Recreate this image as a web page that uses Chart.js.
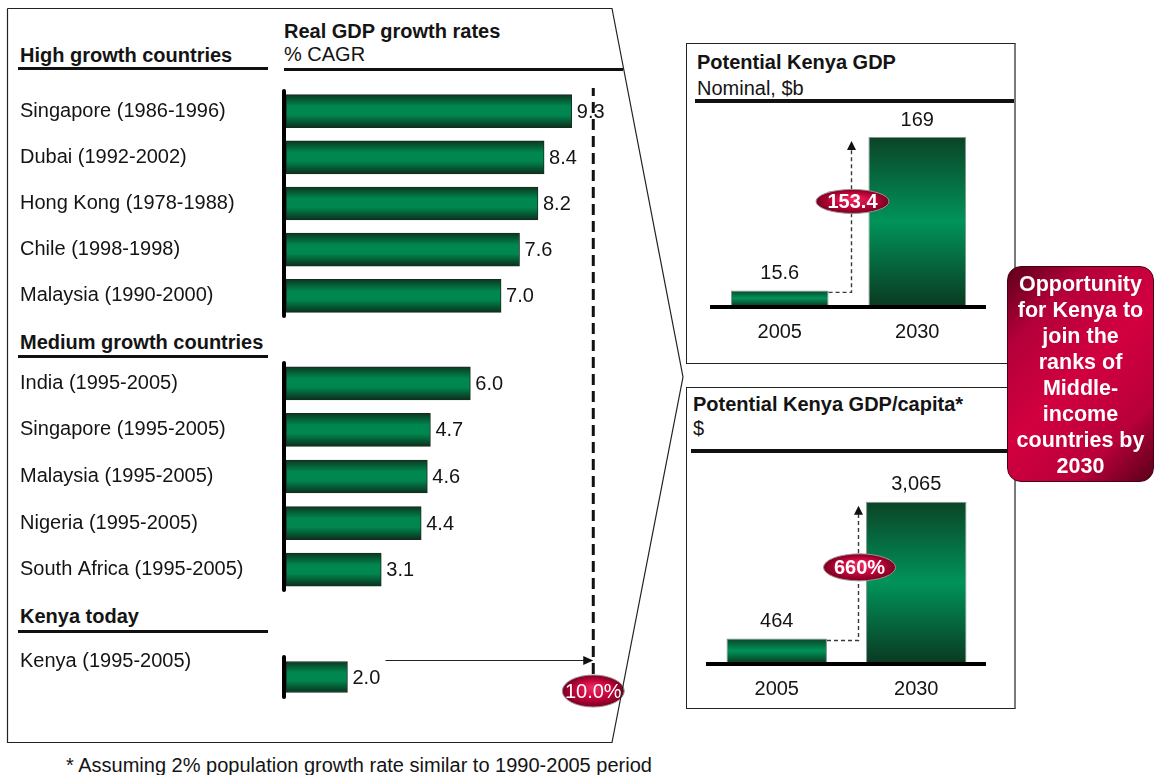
<!DOCTYPE html>
<html>
<head>
<meta charset="utf-8">
<title>Kenya growth ambition</title>
<script src="https://cdn.jsdelivr.net/npm/chart.js@4.4.1/dist/chart.umd.min.js"></script>
<style>
  html, body { margin: 0; padding: 0; background: #fff; }
  body {
    width: 1154px; height: 775px; position: relative; overflow: hidden;
    font-family: "Liberation Sans", Arial, Helvetica, sans-serif; color: #141414;
  }
  .t { position: absolute; font-size: 20px; line-height: 24px; white-space: nowrap; }
  .b { font-weight: bold; }
  .rule { position: absolute; background: #111; }
  canvas { position: absolute; }
  .box {
    position: absolute; box-sizing: border-box;
    border: 1px solid #222; border-right: 2px solid #7a7a7a;
  }
  #frame { position: absolute; left: 0; top: 0; z-index: 5; pointer-events: none; }
  #callout {
    position: absolute; left: 1007px; top: 266px; width: 147px; height: 216px;
    box-sizing: border-box; padding-top: 4px; border-radius: 14px;
    border: 1px solid #4a0012; z-index: 6;
    background: linear-gradient(135deg, #5c0019 0%, #b3003a 22%, #d2003f 50%, #b8003a 78%, #58001a 100%);
    color: #fff; font-weight: bold; font-size: 21.5px; line-height: 26px; text-align: center;
  }
</style>
</head>
<body>

<!-- left panel headings -->
<div class="t b" style="left:20px; top:43px;">High growth countries</div>
<div class="rule" style="left:18px; top:67px; width:250px; height:3px;"></div>
<div class="t b" style="left:284px; top:19px;">Real GDP growth rates</div>
<div class="t" style="left:284px; top:42px;">% CAGR</div>
<div class="rule" style="left:284px; top:68px; width:339px; height:3px;"></div>
<div class="t b" style="left:20px; top:330px;">Medium growth countries</div>
<div class="rule" style="left:18px; top:355px; width:250px; height:3px;"></div>
<div class="t b" style="left:20px; top:604px;">Kenya today</div>
<div class="rule" style="left:18px; top:630px; width:250px; height:3px;"></div>

<canvas id="highChart" width="640" height="272" style="left:0; top:88px;"></canvas>
<canvas id="mediumChart" width="640" height="270" style="left:0; top:360px;"></canvas>
<canvas id="kenyaChart" width="640" height="86" style="left:0; top:630px;"></canvas>

<!-- right panels -->
<div class="box" style="left:686px; top:43px; width:330px; height:321px;"></div>
<div class="t b" style="left:697px; top:50px;">Potential Kenya GDP</div>
<div class="t" style="left:697px; top:76px;">Nominal, $b</div>
<div class="rule" style="left:695px; top:99px; width:319px; height:4px;"></div>
<canvas id="gdpChart" width="300" height="242" style="left:700px; top:104px;"></canvas>

<div class="box" style="left:686px; top:387px; width:330px; height:322px;"></div>
<div class="t b" style="left:693px; top:392px;">Potential Kenya GDP/capita*</div>
<div class="t" style="left:693px; top:416px;">$</div>
<div class="rule" style="left:691px; top:449px; width:323px; height:4px;"></div>
<canvas id="capitaChart" width="300" height="235" style="left:700px; top:468px;"></canvas>

<div id="callout">Opportunity<br>for Kenya to<br>join the<br>ranks of<br>Middle-<br>income<br>countries by<br>2030</div>

<svg id="frame" width="1154" height="775">
  <polyline points="7.5,8.5 612,8.5 683,377 612,742.5 7.5,742.5 7.5,8.5"
            fill="none" stroke="#222" stroke-width="1.2"/>
</svg>

<div class="t" style="left:66px; top:753px;">* Assuming 2% population growth rate similar to 1990-2005 period</div>

<script>
/* ---------- Data ---------- */
const highLabels = ['Singapore (1986-1996)', 'Dubai (1992-2002)', 'Hong Kong (1978-1988)', 'Chile (1998-1998)', 'Malaysia (1990-2000)'];
const highValues = [9.3, 8.4, 8.2, 7.6, 7.0];

const mediumLabels = ['India (1995-2005)', 'Singapore (1995-2005)', 'Malaysia (1995-2005)', 'Nigeria (1995-2005)', 'South Africa (1995-2005)'];
const mediumValues = [6.0, 4.7, 4.6, 4.4, 3.1];

const kenyaLabels = ['Kenya (1995-2005)'];
const kenyaValues = [2.0];
const kenyaTarget = 10.0;

const years = ['2005', '2030'];
const gdpValues = [15.6, 169];
const capitaValues = [464, 3065];

/* ---------- Shared styles ---------- */
const FONT = '"Liberation Sans", Arial, Helvetica, sans-serif';
const INK = '#141414';
Chart.defaults.font.family = FONT;

function hBarFill(ctx) {
  const chart = ctx.chart;
  const ys = chart.scales.y;
  if (!chart.chartArea || !ys) return '#00864f';
  const mid = ys.getPixelForTick(ctx.dataIndex);
  const half = ctx.dataset.barThickness / 2;
  const g = chart.ctx.createLinearGradient(0, mid - half, 0, mid + half);
  g.addColorStop(0, '#0a3820');
  g.addColorStop(0.35, '#00864f');
  g.addColorStop(0.62, '#00864f');
  g.addColorStop(1, '#09301c');
  return g;
}

function vBarFill(ctx) {
  const chart = ctx.chart;
  const ys = chart.scales.y;
  if (!chart.chartArea || !ys) return '#00904f';
  const top = ys.getPixelForValue(ctx.raw);
  const base = ys.getPixelForValue(0);
  const g = chart.ctx.createLinearGradient(0, top, 0, base);
  g.addColorStop(0, '#0b4427');
  g.addColorStop(0.5, '#00935a');
  g.addColorStop(1, '#0a3a21');
  return g;
}

// red oval with white text
function drawBadge(c, x, y, w, h, text, bold) {
  c.save();
  c.translate(x, y);
  c.save();
  c.scale(1, h / w);
  const g = c.createRadialGradient(0, -w * 0.12, 1, 0, 0, w / 2);
  g.addColorStop(0, '#ec2a5e');
  g.addColorStop(0.55, '#c4053c');
  g.addColorStop(1, '#7c001f');
  c.beginPath();
  c.arc(0, 0, w / 2, 0, Math.PI * 2);
  c.fillStyle = g;
  c.fill();
  c.restore();
  c.beginPath();
  c.ellipse(0, 0, w / 2, h / 2, 0, 0, Math.PI * 2);
  c.lineWidth = 1;
  c.strokeStyle = '#a09096';
  c.stroke();
  c.fillStyle = '#fff';
  c.font = (bold ? 'bold ' : '') + '20px ' + FONT;
  c.textAlign = 'center';
  c.textBaseline = 'middle';
  c.fillText(text, 0, 1);
  c.restore();
}

/* ---------- Growth rate bars (left) ---------- */
function growthMarks(cfg) {
  return {
    id: 'growthMarks',
    afterDatasetsDraw(chart) {
      const c = chart.ctx, area = chart.chartArea;
      const bars = chart.getDatasetMeta(0).data;
      const values = chart.data.datasets[0].data;
      const tx = chart.scales.x.getPixelForValue(kenyaTarget);
      c.save();

      // axis spine
      c.strokeStyle = '#000';
      c.lineWidth = 4;
      c.lineCap = 'round';
      c.beginPath();
      c.moveTo(area.left - 2, area.top + 3);
      c.lineTo(area.left - 2, area.bottom - 3);
      c.stroke();

      // value labels
      c.fillStyle = INK;
      c.font = '20px ' + FONT;
      c.textAlign = 'left';
      c.textBaseline = 'middle';
      bars.forEach((b, i) => c.fillText(values[i].toFixed(1), b.x + 5, b.y + 1));

      // target line, dash phase kept in page coordinates
      let dashEnd = chart.height;
      if (cfg.kenya) {
        const b = bars[0];
        const ay = b.y - b.height / 2 - 1;
        const by = b.y + 14, bh = 32;
        dashEnd = by - bh / 2;

        c.lineCap = 'butt';
        c.lineWidth = 1.2;
        c.strokeStyle = '#222';
        c.beginPath();
        c.moveTo(b.x + 38, ay);
        c.lineTo(tx - 9, ay);
        c.stroke();
        c.fillStyle = '#111';
        c.beginPath();
        c.moveTo(tx, ay);
        c.lineTo(tx - 10, ay - 4.5);
        c.lineTo(tx - 10, ay + 4.5);
        c.closePath();
        c.fill();
        cfg.badge = { x: tx, y: by, h: bh };
      }
      c.lineCap = 'butt';
      c.strokeStyle = '#111';
      c.lineWidth = 3;
      c.setLineDash([11, 6]);
      c.lineDashOffset = chart.canvas.offsetTop;
      c.beginPath();
      c.moveTo(tx, 0);
      c.lineTo(tx, dashEnd);
      c.stroke();
      c.setLineDash([]);

      if (cfg.badge) drawBadge(c, cfg.badge.x, cfg.badge.y, 62, cfg.badge.h, kenyaTarget.toFixed(1) + '%', false);
      c.restore();
    }
  };
}

function growthChart(id, labels, values, cfg) {
  return new Chart(document.getElementById(id), {
    type: 'bar',
    data: {
      labels,
      datasets: [{
        data: values,
        backgroundColor: hBarFill,
        borderColor: '#1b2a1f',
        borderWidth: 1,
        borderSkipped: false,
        barThickness: cfg.thickness
      }]
    },
    options: {
      indexAxis: 'y',
      responsive: false,
      animation: false,
      layout: { padding: { left: 20, right: 16, top: cfg.padTop, bottom: cfg.padBottom } },
      plugins: { legend: { display: false }, tooltip: { enabled: false } },
      scales: {
        x: { display: false, min: 0, max: 11 },
        y: {
          grid: { display: false, drawTicks: false },
          border: { display: false },
          ticks: {
            crossAlign: 'far',
            padding: 0,
            color: INK,
            font: { family: FONT, size: 20 },
            labelOffset: cfg.labelOffset
          },
          afterFit: s => {
            s.width = 266;
            s.paddingTop = 0;
            s.paddingBottom = 0;
          }
        }
      }
    },
    plugins: [growthMarks(cfg)]
  });
}

/* ---------- Kenya potential bars (right) ---------- */
function kenyaMarks(cfg) {
  return {
    id: 'kenyaMarks',
    afterDatasetsDraw(chart) {
      const c = chart.ctx, area = chart.chartArea;
      const [b0, b1] = chart.getDatasetMeta(0).data;
      const values = chart.data.datasets[0].data;
      const ys = chart.scales.y;
      c.save();

      // baseline
      c.strokeStyle = '#000';
      c.lineWidth = 4;
      c.beginPath();
      c.moveTo(area.left - 1, area.bottom + 1);
      c.lineTo(area.right, area.bottom + 1);
      c.stroke();

      // value labels
      c.fillStyle = INK;
      c.font = '20px ' + FONT;
      c.textAlign = 'center';
      c.textBaseline = 'middle';
      [b0, b1].forEach((b, i) => c.fillText(cfg.format(values[i]), b.x, b.y - 17));

      // dashed step arrow from 2005 level up to 2030 level
      const ax = (b0.x + b1.x) / 2 + cfg.arrowShift;
      const y0 = b0.y + 2;
      const tip = b1.y + 4;
      c.strokeStyle = '#3a3a3a';
      c.lineWidth = 1.4;
      c.setLineDash([4, 3]);
      c.beginPath();
      c.moveTo(b0.x + b0.width / 2, y0);
      c.lineTo(ax, y0);
      c.lineTo(ax, tip + 8);
      c.stroke();
      c.setLineDash([]);
      c.fillStyle = '#111';
      c.beginPath();
      c.moveTo(ax, tip);
      c.lineTo(ax - 4.5, tip + 9);
      c.lineTo(ax + 4.5, tip + 9);
      c.closePath();
      c.fill();

      const level = values[0] + (values[1] - values[0]) * cfg.badgeAt;
      drawBadge(c, ax + 1, ys.getPixelForValue(level), cfg.badgeW, cfg.badgeH, cfg.badgeText, true);
      c.restore();
    }
  };
}

function kenyaChart(id, values, cfg) {
  return new Chart(document.getElementById(id), {
    type: 'bar',
    data: {
      labels: years,
      datasets: [{
        data: values,
        backgroundColor: vBarFill,
        borderColor: 'rgba(120,140,128,0.9)',
        borderWidth: 1,
        borderSkipped: 'start',
        barPercentage: cfg.barPct,
        categoryPercentage: 1
      }]
    },
    options: {
      responsive: false,
      animation: false,
      layout: { padding: cfg.padding },
      plugins: { legend: { display: false }, tooltip: { enabled: false } },
      scales: {
        x: {
          grid: { display: false, drawTicks: false },
          border: { display: false },
          ticks: { color: INK, font: { family: FONT, size: 20 }, padding: 14 },
          afterFit: s => { s.height = 40; }
        },
        y: { display: false, min: 0, max: cfg.max }
      }
    },
    plugins: [kenyaMarks(cfg)]
  });
}

/* ---------- Init ---------- */
growthChart('highChart', highLabels, highValues,
  { thickness: 33, padTop: 0, padBottom: 41, labelOffset: 0 });
growthChart('mediumChart', mediumLabels, mediumValues,
  { thickness: 33, padTop: 0, padBottom: 37, labelOffset: 0 });
growthChart('kenyaChart', kenyaLabels, kenyaValues,
  { thickness: 31, padTop: 24, padBottom: 16, labelOffset: -16, kenya: true });

kenyaChart('gdpChart', gdpValues, {
  max: 190,
  barPct: 0.71,
  padding: { left: 11, right: 14, top: 12, bottom: 0 },
  format: v => String(v),
  arrowShift: 3,
  badgeAt: 0.58,
  badgeW: 73,
  badgeH: 24,
  badgeText: (gdpValues[1] - gdpValues[0]).toFixed(1)
});

kenyaChart('capitaChart', capitaValues, {
  max: 3400,
  barPct: 0.72,
  padding: { left: 7, right: 14, top: 16, bottom: 0 },
  format: v => v.toLocaleString('en-US'),
  arrowShift: 12,
  badgeAt: 0.52,
  badgeW: 72,
  badgeH: 27,
  badgeText: Math.round(capitaValues[1] / capitaValues[0] * 10) * 10 + '%'
});
</script>
</body>
</html>
